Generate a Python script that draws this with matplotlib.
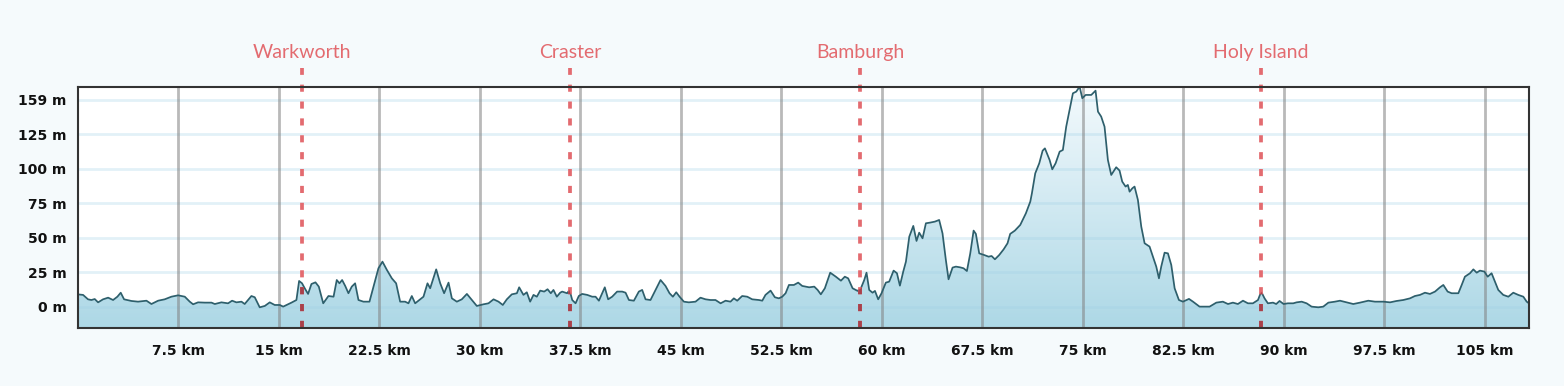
import matplotlib.pyplot as plt
import matplotlib.transforms as mtransforms
from matplotlib.colors import LinearSegmentedColormap
import numpy as np

# elevation profile (distance in km, height in m)
dist_km = [
    0.0, 0.41, 0.78, 1.03, 1.28, 1.53, 1.9, 2.28, 2.65, 2.97, 3.22, 3.47, 4.02, 4.51, 5.14, 5.51,
    6.01, 6.5, 7.0, 7.5, 8.0, 8.37, 8.62, 8.99, 9.49, 9.99, 10.24, 10.73, 11.23, 11.53, 11.85,
    12.23, 12.47, 12.72, 12.97, 13.22, 13.59, 13.97, 14.34, 14.71, 15.09, 15.34, 15.71, 15.96,
    16.33, 16.53, 16.75, 16.95, 17.2, 17.45, 17.75, 18.0, 18.33,
    18.72, 19.1, 19.34, 19.54, 19.74, 19.97, 20.21, 20.46, 20.71, 20.96, 21.33, 21.78, 22.08,
    22.45, 22.75, 23.08, 23.45, 23.77, 24.07, 24.44, 24.69, 24.94, 25.19, 25.56, 25.81, 26.11,
    26.31, 26.76, 27.06, 27.35, 27.68, 27.93, 28.3, 28.67, 29.05, 29.42, 29.79, 30.29, 30.66,
    31.04, 31.41, 31.73, 32.03, 32.4, 32.78, 32.95, 33.27, 33.52, 33.77, 34.02, 34.27, 34.52,
    34.82, 35.07, 35.31, 35.51, 35.76, 36.01,
    36.16, 36.53, 36.71, 36.91, 37.16, 37.4, 37.65, 38.03, 38.4, 38.65, 38.9, 39.15, 39.34,
    39.59, 39.89, 40.26, 40.64, 40.89, 41.14, 41.51, 41.88, 42.13, 42.38, 42.75, 43.13, 43.5,
    43.87, 44.17, 44.42, 44.67, 44.92, 45.24, 45.61, 46.11, 46.48, 46.86, 47.23, 47.6, 47.98,
    48.35, 48.72, 48.97, 49.22, 49.59, 49.97, 50.34, 50.84, 51.09, 51.33, 51.71, 52.03, 52.33,
    52.58, 52.83, 53.08, 53.45, 53.77, 54.07,
    54.59, 54.97, 55.22, 55.46, 55.76, 56.16, 56.58, 56.96, 57.25, 57.5, 57.83, 58.2, 58.45,
    58.7, 58.87, 59.07, 59.32, 59.5, 59.74, 59.99, 60.31, 60.56, 60.89, 61.14, 61.36, 61.61,
    61.81, 62.06, 62.36, 62.6, 62.8, 63.05, 63.3, 63.62, 63.97, 64.29, 64.54, 64.79, 64.99,
    65.29, 65.54, 65.84, 66.11, 66.36, 66.61, 66.86, 67.03, 67.28, 67.65, 67.98, 68.2, 68.45,
    68.77, 69.1, 69.39, 69.59, 69.94, 70.34, 70.76, 71.09, 71.21, 71.46, 71.76, 72.01, 72.18,
    72.53, 72.73, 72.98, 73.28, 73.52, 73.77, 74.02, 74.27, 74.52, 74.77, 74.97, 75.22, 75.64,
    75.96, 76.14, 76.38, 76.63, 76.88, 77.13, 77.5, 77.75, 77.95, 78.2, 78.37, 78.5, 78.7,
    78.87, 79.12, 79.37, 79.62, 79.99, 80.24, 80.49, 80.69, 80.86, 81.11, 81.36, 81.61, 81.86,
    82.18, 82.48, 82.93, 83.23, 83.72, 84.47, 84.97, 85.46, 85.84, 86.21, 86.58, 86.96, 87.33,
    87.7, 88.08, 88.32, 88.57, 88.82, 89.2, 89.44, 89.69, 89.99, 90.31,
    90.71, 90.96, 91.34, 91.71, 92.08, 92.58, 92.95, 93.33, 93.82, 94.2, 94.69, 95.19, 95.69,
    96.31, 96.81, 97.43, 97.93, 98.42, 98.92, 99.42, 99.79, 100.17, 100.54, 100.91, 101.29,
    101.66, 101.91, 102.23, 102.53, 103.03, 103.28, 103.52, 103.9, 104.15, 104.4, 104.64,
    104.97, 105.22, 105.51, 105.76, 106.01, 106.38, 106.76, 107.13, 107.5, 107.88, 108.13, 108.3,
]
elev_m = [
    8.9, 8.5, 5.3, 4.8, 5.5, 3.1, 5.3, 6.5, 4.8, 7.2, 10.1, 5.3, 4.1, 3.6, 4.3, 1.9,
    4.3, 5.3, 7.2, 8.2, 7.2, 3.6, 1.7, 3.1, 2.9, 2.9, 1.9, 3.1, 2.4, 4.3, 3.1,
    3.6, 1.9, 4.8, 7.7, 6.8, -0.5, 0.5, 3.1, 1.2, 1.2, 0.0, 1.7, 2.9,
    4.8, 18.6, 16.9, 13.3, 9.2, 16.4, 17.6, 14.5, 2.4,
    7.7, 7.2, 19.3, 16.9, 19.3, 15.0, 9.7, 14.5, 16.9, 4.8, 3.6, 3.6, 14.5,
    27.8, 32.6, 26.6, 20.5, 16.9, 3.6, 3.6, 2.4, 7.7, 2.4, 5.3, 7.2, 16.9,
    13.3, 27.0, 16.9, 9.7, 17.4, 6.0, 3.6, 5.3, 9.2, 4.8, 0.5, 1.7, 2.4,
    5.3, 3.6, 1.2, 5.3, 8.9, 9.7, 14.0, 8.5, 10.4, 3.6, 8.5, 7.2, 11.6,
    10.9, 12.6, 9.7, 12.1, 7.2, 10.1,
    10.9, 9.7, 12.1, 4.8, 2.4, 7.7, 9.2, 8.5, 7.2, 7.2, 4.3, 9.7, 14.0,
    5.3, 7.2, 10.9, 10.9, 10.1, 4.8, 4.3, 10.9, 12.1, 5.3, 4.8, 12.1, 19.3,
    15.0, 9.7, 7.2, 10.4, 7.2, 3.6, 3.1, 3.6, 6.5, 5.3, 4.8, 4.8, 2.4,
    4.3, 3.6, 6.0, 4.3, 7.7, 7.2, 5.3, 4.8, 4.3, 8.5, 11.6, 6.8, 6.0,
    7.2, 9.7, 15.7, 15.7, 17.4, 15.0,
    14.0, 14.5, 12.1, 8.9, 13.3, 24.6, 21.7, 18.8, 21.7, 20.5, 13.3, 11.4, 13.3,
    19.3, 24.6, 12.1, 10.1, 11.4, 5.3, 9.7, 17.4, 18.1, 26.1, 24.2, 15.2, 25.4,
    32.6, 50.7, 58.5, 47.6, 53.6, 49.5, 60.4, 60.9, 61.6, 62.8, 53.1, 33.8, 19.8,
    28.3, 29.0, 28.5, 27.8, 25.8, 38.6, 55.1, 52.7, 38.6, 37.4, 36.2, 36.7, 34.3,
    37.4, 41.5, 45.9, 52.7, 55.1, 59.2, 67.6, 76.1, 82.1, 96.6, 103.9, 113.0, 114.7,
    106.3, 99.5, 103.9, 112.3, 113.5, 130.4, 142.5, 154.6, 155.8, 159.4, 151.0, 153.4, 153.4,
    156.5, 141.3, 137.7, 130.4, 106.3, 95.4, 101.0, 98.6, 90.6, 87.0, 88.2, 83.3, 85.7,
    87.0, 77.3, 58.0, 45.9, 43.5, 36.2, 29.0, 20.5, 29.0, 39.1, 38.6, 30.2, 13.3,
    4.8, 3.6, 5.6, 3.6, 0.0, 0.0, 2.9, 3.6, 1.9, 2.9, 1.9, 4.3, 2.4,
    2.4, 4.8, 10.9, 6.0, 2.4, 2.9, 1.9, 4.1, 1.9, 2.4,
    2.4, 3.1, 3.6, 2.4, 0.0, -0.5, 0.0, 2.9, 3.6, 4.3, 3.1, 1.9, 2.9,
    4.3, 3.6, 3.6, 3.1, 4.1, 4.8, 6.0, 7.7, 8.5, 10.1, 9.2, 10.9,
    14.0, 15.7, 10.9, 9.7, 9.7, 15.7, 21.7, 24.2, 27.0, 24.6, 26.1,
    25.4, 21.7, 24.2, 18.1, 12.1, 8.5, 7.2, 10.1, 8.5, 7.2, 3.6, 2.4,
]

places = ["Warkworth", "Craster", "Bamburgh", "Holy Island"]
place_km = [16.78, 36.78, 58.4, 88.3]

x_ticks = [7.5, 15, 22.5, 30, 37.5, 45, 52.5, 60, 67.5, 75, 82.5, 90, 97.5, 105]
x_labels = ["7.5 km", "15 km", "22.5 km", "30 km", "37.5 km", "45 km", "52.5 km", "60 km",
            "67.5 km", "75 km", "82.5 km", "90 km", "97.5 km", "105 km"]
y_ticks = [0, 25, 50, 75, 100, 125, 150]
y_labels = ["0 m", "25 m", "50 m", "75 m", "100 m", "125 m", "159 m"]

x = np.array(dist_km)
y = np.array(elev_m)
y_lo, y_hi = -15.7, 159.4
x_hi = 108.3

fig = plt.figure(figsize=(15.64, 3.86), dpi=100, facecolor="#f5fafc")
ax = fig.add_axes([0.0496, 0.1495, 0.928, 0.626])
ax.set_facecolor("white")

# gradient fill under the profile
cmap = LinearSegmentedColormap.from_list("elev", ["#add8e6", "#f4fafd"])
grad = np.linspace(0, 1, 256).reshape(-1, 1)
img = ax.imshow(grad, cmap=cmap, origin="lower", aspect="auto",
                extent=[0, x_hi, y_lo, y_hi], zorder=1)
poly = ax.fill_between(x, y, y_lo, facecolor="none", edgecolor="none")
clip = poly.get_paths()[0]
img.set_clip_path(clip, transform=ax.transData)
ax.plot(x, y, color="#2e5f6c", lw=1.25, zorder=3)

# grid over the fill
for yt in y_ticks:
    ax.axhline(yt, color=(0.63, 0.82, 0.9), alpha=0.3, lw=2, zorder=2)
for xt in x_ticks:
    ax.axvline(xt, color="#808080", alpha=0.55, lw=2, zorder=2)

# place markers
trans = mtransforms.blended_transform_factory(ax.transData, ax.transAxes)
for name, km in zip(places, place_km):
    ax.plot([km, km], [0, 1.077], transform=trans, clip_on=False, color="#e36b70",
            lw=2.7, dashes=(1.9, 2.6), zorder=4)
    dark, = ax.plot([km, km], [0, 1.077], transform=trans, color="#a8414b",
                    lw=2.7, dashes=(1.9, 2.6), zorder=5)
    dark.set_clip_path(clip, transform=ax.transData)
    ax.text(km, 1.143, name, transform=trans, ha="center", va="center",
            fontsize=14, color="#e36b70", family="Lato")

ax.set_xlim(0, x_hi)
ax.set_ylim(y_lo, y_hi)
ax.set_xticks(x_ticks)
ax.set_xticklabels(x_labels)
ax.set_yticks(y_ticks)
ax.set_yticklabels(y_labels)
ax.tick_params(length=0, labelsize=10, labelcolor="#111111")
ax.tick_params(axis="x", pad=11)
ax.tick_params(axis="y", pad=8)
for lab in ax.get_xticklabels() + ax.get_yticklabels():
    lab.set_fontweight("bold")
for sp in ax.spines.values():
    sp.set_color("#333333")
    sp.set_linewidth(1.5)
    sp.set_zorder(6)

fig.savefig("out.png", dpi=100, facecolor=fig.get_facecolor())
